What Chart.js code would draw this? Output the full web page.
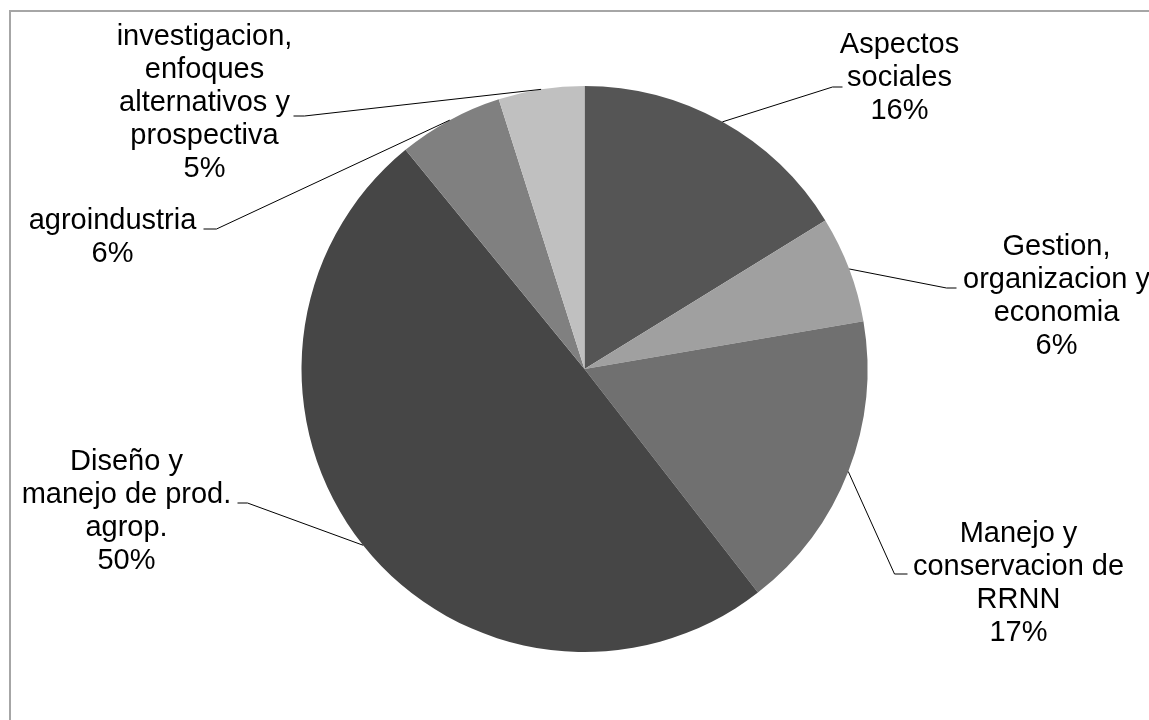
<!DOCTYPE html>
<html>
<head>
<meta charset="utf-8">
<script src="https://cdn.jsdelivr.net/npm/chart.js@4"></script>
<style>
  body { margin: 0; background: #fff; }
  #wrap { position: relative; width: 1149px; height: 720px; }
</style>
</head>
<body>
<div id="wrap"><canvas id="mygraph"></canvas></div>
<script>
// data
const categories = [
  'Aspectos\nsociales',
  'Gestion,\norganizacion y\neconomia',
  'Manejo y\nconservacion de\nRRNN',
  'Diseño y\nmanejo de prod.\nagrop.',
  'agroindustria',
  'investigacion,\nenfoques\nalternativos y\nprospectiva'
]
const shares = [16.2, 6.1, 17.2, 49.6, 6.0, 4.9]
const sliceColors = ['#555555', '#a0a0a0', '#707070', '#464646', '#808080', '#c0c0c0']

// where each label sits, relative to the pie centre
// tx = text centre x, ty = first baseline, ex/ey = elbow of leader, tail = end of short horizontal
const labelLayout = [
  { tx: 315, ty: -316, ex: 248, ey: -282, tail: 258 },
  { tx: 472, ty: -114, ex: 362, ey: -81, tail: 372 },
  { tx: 434, ty: 173, ex: 310, ey: 205, tail: 323 },
  { tx: -458, ty: 101, ex: -337, ey: 134, tail: -347 },
  { tx: -472, ty: -140, ex: -368, ey: -140, tail: -381 },
  { tx: -380, ty: -324, ex: -280, ey: -253, tail: -291 }
]

const lineGap = 33
const total = shares.reduce((a, b) => a + b, 0)

const frame = {
  id: 'frame',
  beforeDraw(chart) {
    const c = chart.ctx
    c.save()
    c.strokeStyle = '#a6a6a6'
    c.lineWidth = 2
    c.strokeRect(10, 11, 2000, 2000)
    c.restore()
  }
}

const pieLabels = {
  id: 'pieLabels',
  afterDraw(chart) {
    const c = chart.ctx
    const arcs = chart.getDatasetMeta(0).data
    c.save()
    c.font = '29px "Liberation Sans", Arial, sans-serif'
    c.fillStyle = '#000'
    c.textAlign = 'center'
    c.textBaseline = 'alphabetic'
    arcs.forEach((arc, i) => {
      const p = arc.getProps(['x', 'y', 'startAngle', 'endAngle', 'outerRadius'], true)
      const mid = (p.startAngle + p.endAngle) / 2
      const sx = p.x + Math.cos(mid) * p.outerRadius
      const sy = p.y + Math.sin(mid) * p.outerRadius
      const L = labelLayout[i]
      c.strokeStyle = '#000'
      c.lineWidth = 1
      c.beginPath()
      c.moveTo(sx, sy)
      c.lineTo(p.x + L.ex, p.y + L.ey)
      c.lineTo(p.x + L.tail, p.y + L.ey)
      c.stroke()
      const lines = categories[i].split('\n')
      lines.push(Math.round(shares[i] / total * 100) + '%')
      lines.forEach((t, k) => {
        c.fillText(t, p.x + L.tx, p.y + L.ty + k * lineGap)
      })
    })
    c.restore()
  }
}

const ctx = document.getElementById('mygraph').getContext('2d')
new Chart(ctx, {
  type: 'pie',
  data: {
    labels: categories,
    datasets: [{
      data: shares,
      backgroundColor: sliceColors,
      borderWidth: 0
    }]
  },
  options: {
    responsive: true,
    maintainAspectRatio: false,
    animation: false,
    layout: { padding: { top: 86, bottom: 68, left: 20, right: 0 } },
    plugins: {
      legend: { display: false },
      tooltip: { enabled: false }
    }
  },
  plugins: [frame, pieLabels]
})
</script>
</body>
</html>
